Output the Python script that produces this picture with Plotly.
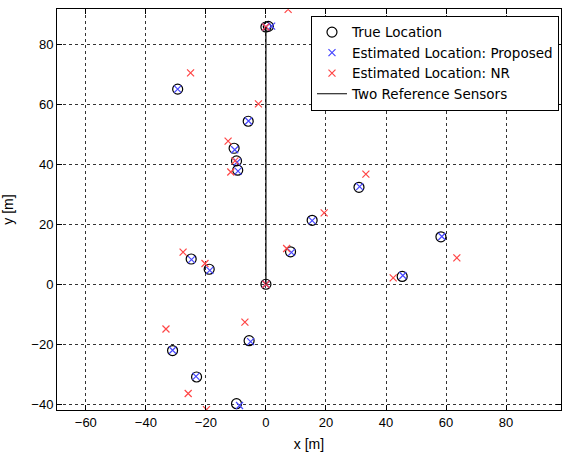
import plotly.graph_objects as go

# True locations
true_x = [0.0, 0.8, -29.4, -5.9, -10.6, -9.8, -9.4, 31.0, 15.4, 8.2, 58.3, 45.4, -24.9, -18.9, 0.0, -5.6, -31.1, -23.1, -9.8]
true_y = [85.7, 85.9, 65.0, 54.3, 45.3, 41.1, 38.0, 32.3, 21.3, 10.8, 15.8, 2.6, 8.4, 5.0, 0.0, -18.8, -22.1, -30.9, -39.8]

# Estimated: proposed
prop_x = [0.0, 1.9, -29.4, -5.8, -10.4, -9.6, -9.3, 31.2, 15.4, 8.5, 58.6, 45.6, -24.8, -18.7, 0.0, -5.1, -31.1, -23.3, -8.8]
prop_y = [85.7, 86.0, 65.0, 54.4, 44.8, 40.7, 37.7, 32.5, 21.2, 10.6, 15.9, 2.9, 8.2, 4.6, 0.0, -19.1, -22.0, -30.7, -40.4]

# Estimated: NR
nr_x = [0.0, 7.4, -25.1, -2.5, -12.6, -10.3, -11.7, 33.3, 19.4, 6.9, 63.6, 42.4, -27.6, -20.3, 0.0, -7.0, -33.3, -25.9, -19.8]
nr_y = [85.7, 91.6, 70.4, 60.1, 47.7, 41.1, 37.4, 36.7, 23.8, 11.9, 8.8, 2.1, 10.7, 6.9, 0.0, -12.6, -14.9, -36.4, -41.8]

# Reference sensors
ref_x = [0.0, 0.0]
ref_y = [0.0, 85.7]

x_ticks = [-60, -40, -20, 0, 20, 40, 60, 80]
y_ticks = [-40, -20, 0, 20, 40, 60, 80]

BLUE = "#4646ff"
RED = "#ff4646"

fig = go.Figure()
fig.add_trace(go.Scatter(x=true_x, y=true_y, mode="markers", name="True Location",
                         marker=dict(symbol="circle-open", size=10, color="black",
                                     line=dict(width=1.2, color="black"))))
fig.add_trace(go.Scatter(x=prop_x, y=prop_y, mode="markers", name="Estimated Location: Proposed",
                         marker=dict(symbol="x-thin-open", size=7, color=BLUE,
                                     line=dict(width=1.2, color=BLUE))))
fig.add_trace(go.Scatter(x=nr_x, y=nr_y, mode="markers", name="Estimated Location: NR",
                         marker=dict(symbol="x-thin-open", size=7, color=RED,
                                     line=dict(width=1.2, color=RED))))
fig.add_trace(go.Scatter(x=ref_x, y=ref_y, mode="lines", name="Two Reference Sensors",
                         line=dict(color="black", width=1.2)))

axis_common = dict(
    showline=True, linecolor="black", linewidth=1, mirror="ticks",
    ticks="inside", ticklen=5, tickcolor="black",
    showgrid=True, gridcolor="#333333", gridwidth=1, griddash="3px,3px",
    zeroline=False, tickfont=dict(family="Liberation Sans, Arial", size=13, color="black"),
)

fig.update_xaxes(range=[-69.6, 98.3], tickvals=x_ticks,
                 title=dict(text="x [m]", font=dict(family="Liberation Sans, Arial", size=14, color="black"), standoff=10),
                 **axis_common)
fig.update_yaxes(range=[-41.9, 91.7], tickvals=y_ticks,
                 title=dict(text="y [m]", font=dict(family="Liberation Sans, Arial", size=14, color="black"), standoff=16),
                 **axis_common)

fig.update_layout(
    width=562, height=457,
    margin=dict(l=57, r=1, t=9, b=47),
    paper_bgcolor="white", plot_bgcolor="white",
    showlegend=True,
    legend=dict(x=0.996, y=0.983, xanchor="right", yanchor="top",
                bgcolor="white", bordercolor="black", borderwidth=1,
                font=dict(family="DejaVu Sans", size=13.5, color="black"),
                tracegroupgap=0, itemwidth=30),
    font=dict(family="Liberation Sans, Arial", color="black"),
)

fig.write_html("out.html")
